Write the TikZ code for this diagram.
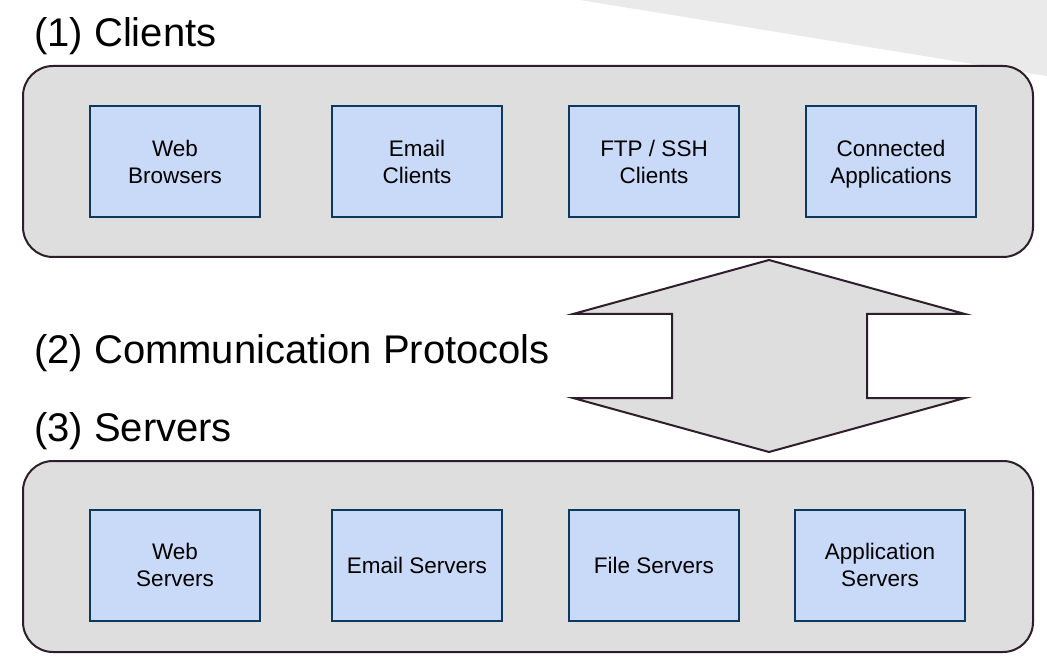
\documentclass[tikz,border=0pt]{standalone}
\usepackage{fontspec}
\setmainfont{Liberation Sans}
\definecolor{bggray}{HTML}{EAEAEA}
\definecolor{panelfill}{HTML}{DEDEDE}
\definecolor{paneldraw}{HTML}{2E1E2C}
\definecolor{boxfill}{HTML}{C9DAF8}
\definecolor{boxdraw}{HTML}{0B3A5E}
\begin{document}
\begin{tikzpicture}[x=1pt,y=-1pt,
  panel/.style={draw=paneldraw,fill=panelfill,line width=2pt,rounded corners=30pt},
  itembox/.style={draw=boxdraw,fill=boxfill,line width=2pt,minimum width=170pt,minimum height=111pt,
    inner sep=0pt,align=center,font=\fontsize{22.5}{27}\selectfont},
  title/.style={anchor=base west,inner sep=0pt,font=\fontsize{40}{48}\selectfont}]
\useasboundingbox (0,0) rectangle (1047,668);
\fill[bggray] (580,0) -- (1047,0) -- (1047,76) -- cycle;
% titles
\node[title] (t1) at (34,47) {(1) Clients};
\node[title] (t2) at (34,363) {(2) Communication Protocols};
\node[title] (t3) at (34,441) {(3) Servers};
% panels
\draw[panel] (23,66) rectangle (1033,257);
\draw[panel] (23,461) rectangle (1033,652);
% double arrow
\draw[draw=paneldraw,fill=panelfill,line width=2pt,line join=miter]
  (769,260) -- (965,314) -- (867,314) -- (867,398) -- (965,398) -- (769,452)
  -- (573,398) -- (672,398) -- (672,314) -- (573,314) -- cycle;
% client boxes
\node[itembox] (wb) at (175,161.5) {Web\\Browsers};
\node[itembox] (ec) at (417,161.5) {Email\\Clients};
\node[itembox] (fs) at (654,161.5) {FTP / SSH\\Clients};
\node[itembox] (ca) at (891,161.5) {Connected\\\raisebox{0pt}[\height][0pt]{Applications}};
% server boxes
\node[itembox] (ws) at (175,565) {Web\\Servers};
\node[itembox] (es) at (417,565) {Email Servers};
\node[itembox] (fl) at (654,565) {File Servers};
\node[itembox] (as) at (880,565) {Application\\Servers};
\end{tikzpicture}
\end{document}
